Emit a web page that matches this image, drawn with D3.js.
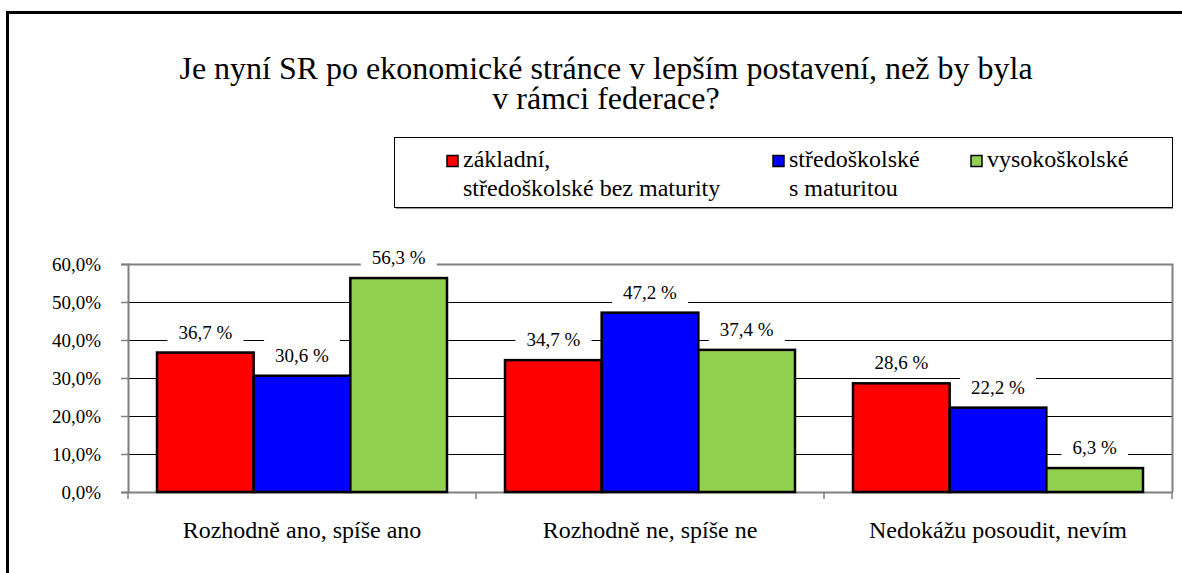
<!DOCTYPE html>
<html>
<head>
<meta charset="utf-8">
<script src="https://cdn.jsdelivr.net/npm/d3@7"></script>
</head>
<body style="margin:0">
<svg id="chart" width="1182" height="573"></svg>
<script>
// data
var categories = ["Rozhodně ano, spíše ano", "Rozhodně ne, spíše ne", "Nedokážu posoudit, nevím"];
var seriesNames = [["základní,", "středoškolské bez maturity"], ["středoškolské", "s maturitou"], ["vysokoškolské"]];
var zakladni = [36.7, 34.7, 28.6];
var stredoskolske = [30.6, 47.2, 22.2];
var vysokoskolske = [56.3, 37.4, 6.3];
var yTicks = [0, 10, 20, 30, 40, 50, 60];
var titleLines = ["Je nyní SR po ekonomické stránce v lepším postavení, než by byla", "v rámci federace?"];
var colors = ["#ff0000", "#0000ff", "#92d050"];

var allSeries = [zakladni, stredoskolske, vysokoskolske];
var fontFace = "'Liberation Serif', 'Times New Roman', serif";

var locale = d3.formatLocale({decimal: ",", thousands: " ", grouping: [3], currency: ["", ""]});
var fmtNum = locale.format(".1f");

var svg = d3.select("#chart");

// outer frame (right and bottom sides run off the picture)
svg.append("rect")
  .attr("x", 7.5).attr("y", 12.5)
  .attr("width", 1250).attr("height", 650)
  .attr("fill", "none").attr("stroke", "#000").attr("stroke-width", 3);

// title
titleLines.forEach(function(line, i) {
  svg.append("text")
    .style("font-family", fontFace)
    .attr("text-anchor", "middle")
    .attr("font-size", 32)
    .attr("x", 606)
    .attr("y", 79 + i * 30)
    .text(line);
});

// legend
var legend = svg.append("g");
legend.append("rect")
  .attr("x", 394.5).attr("y", 137.5)
  .attr("width", 778).attr("height", 70)
  .attr("fill", "#fff").attr("stroke", "#000").attr("stroke-width", 1);
legend.append("line")
  .attr("x1", 396).attr("x2", 1173)
  .attr("y1", 208.5).attr("y2", 208.5)
  .attr("stroke", "#999").attr("stroke-width", 1);
var legendX = [447, 773, 971];
seriesNames.forEach(function(name, i) {
  legend.append("rect")
    .attr("x", legendX[i]).attr("y", 155.5)
    .attr("width", 11).attr("height", 11)
    .attr("fill", colors[i]).attr("stroke", "#000").attr("stroke-width", 1.5);
  name.forEach(function(line, j) {
    legend.append("text")
      .style("font-family", fontFace)
      .attr("font-size", 24)
      .attr("x", legendX[i] + 16)
      .attr("y", 167 + j * 29)
      .text(line);
  });
});

// plot area
var plotLeft = 128, plotRight = 1172, plotTop = 264, plotBottom = 492;

var x0 = d3.scaleBand().domain(categories).range([plotLeft, plotRight]).paddingInner(0).paddingOuter(0);
var x1 = d3.scaleBand().domain([0, 1, 2]).range([0, x0.bandwidth()]).paddingInner(0).paddingOuter(0.3);
var y = d3.scaleLinear().domain([0, 60]).range([plotBottom, plotTop]);

// gridlines
svg.append("g")
  .selectAll("line")
  .data(yTicks.filter(function(t) { return t > 0 && t < 60; }))
  .enter().append("line")
  .attr("x1", plotLeft).attr("x2", plotRight)
  .attr("y1", function(d) { return Math.round(y(d)) + 0.5; })
  .attr("y2", function(d) { return Math.round(y(d)) + 0.5; })
  .attr("stroke", "#000").attr("stroke-width", 1);

// plot border (top and right)
svg.append("path")
  .attr("d", "M" + plotLeft + "," + (plotTop + 0.5) + "H" + (plotRight + 0.5) + "V" + plotBottom)
  .attr("fill", "none").attr("stroke", "#808080").attr("stroke-width", 2);

// y axis
var yAxis = svg.append("g")
  .attr("transform", "translate(" + plotLeft + ",0)")
  .call(d3.axisLeft(y).tickValues(yTicks).tickSize(7).tickPadding(20)
    .tickFormat(function(d) { return fmtNum(d) + "%"; }));
yAxis.select(".domain").attr("stroke", "#808080").attr("stroke-width", 2);
yAxis.selectAll(".tick line").attr("stroke", "#808080").attr("stroke-width", 1.5);
yAxis.selectAll(".tick text").attr("font-size", 19).attr("fill", "#000")
  .style("font-family", fontFace);

// x axis
var xAxis = svg.append("g")
  .attr("transform", "translate(0," + plotBottom + ")")
  .call(d3.axisBottom(x0).tickSize(0).tickPadding(29));
xAxis.select(".domain").attr("stroke", "#808080").attr("stroke-width", 2);
xAxis.selectAll(".tick text").attr("font-size", 24).attr("fill", "#000")
  .style("font-family", fontFace);
// category separators
var seps = [plotLeft].concat(categories.map(function(c) { return x0(c) + x0.bandwidth(); }));
xAxis.selectAll(".sep")
  .data(seps)
  .enter().append("line")
  .attr("class", "sep")
  .attr("x1", function(d) { return d; }).attr("x2", function(d) { return d; })
  .attr("y1", 0).attr("y2", 7)
  .attr("stroke", "#808080").attr("stroke-width", 1.5);

// rows for bars and labels
var rows = [];
categories.forEach(function(c, ci) {
  allSeries.forEach(function(s, si) {
    rows.push({cat: c, s: si, v: s[ci]});
  });
});

var labelBoxes = svg.append("g");

// bars
svg.append("g")
  .selectAll("rect")
  .data(rows)
  .enter().append("rect")
  .attr("x", function(d) { return x0(d.cat) + x1(d.s); })
  .attr("y", function(d) { return y(d.v); })
  .attr("width", x1.bandwidth())
  .attr("height", function(d) { return plotBottom - y(d.v); })
  .attr("fill", function(d) { return colors[d.s]; })
  .attr("stroke", "#000").attr("stroke-width", 2.5);

// data labels on white boxes that hide the gridlines
svg.append("g")
  .selectAll("text")
  .data(rows)
  .enter().append("text")
  .style("font-family", fontFace)
  .attr("text-anchor", "middle")
  .attr("font-size", 19)
  .attr("x", function(d) { return x0(d.cat) + x1(d.s) + x1.bandwidth() / 2; })
  .attr("y", function(d) { return y(d.v) - 14; })
  .text(function(d) { return fmtNum(d.v) + " %"; })
  .each(function(d) {
    var b = this.getBBox();
    labelBoxes.append("rect")
      .attr("x", b.x - 11).attr("y", y(d.v) - 14 - 26)
      .attr("width", b.width + 22).attr("height", 33)
      .attr("fill", "#fff");
  });
</script>
</body>
</html>
